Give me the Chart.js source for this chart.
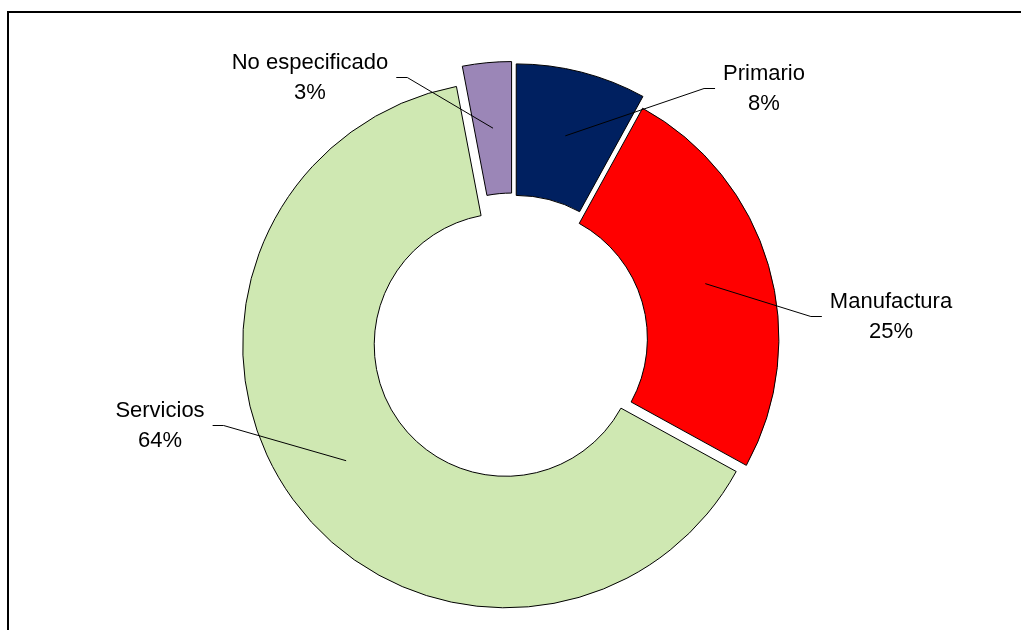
<!DOCTYPE html>
<html>
<head>
<meta charset="utf-8">
<script src="https://cdn.jsdelivr.net/npm/chart.js@4.4.1/dist/chart.umd.min.js"></script>
<style>
  html, body { margin: 0; padding: 0; background: #fff; overflow: hidden; }
  #wrap { position: relative; width: 1021px; height: 630px; }
  #frame { position: absolute; left: 7px; top: 11px; width: 1100px; height: 700px; border: 2px solid #000; }
  #sectorChart { position: absolute; left: 0; top: 0; }
</style>
</head>
<body>
<div id="wrap">
  <div id="frame"></div>
  <canvas id="sectorChart" width="1021" height="630"></canvas>
</div>
<script>
// Data
const sectors = ['Primario', 'Manufactura', 'Servicios', 'No especificado'];
const shares = [8, 25, 64, 3];
const sectorColors = ['#002060', '#FF0000', '#CFE8B2', '#9B86B7'];

// 1. Exploded slices: every arc is drawn by the library, just shifted out along its mid angle
const explodePlugin = {
    id: 'explode',
    beforeDatasetDraw(chart, args, opts) {
        const ctx = chart.ctx;
        args.meta.data.forEach((arc, i) => {
            const mid = (arc.startAngle + arc.endAngle) / 2;
            const d = opts.offsets[i] || 0;
            ctx.save();
            ctx.translate(Math.cos(mid) * d, Math.sin(mid) * d);
            arc.draw(ctx);
            ctx.restore();
        });
        return false;
    }
};

// 2. Category + percent labels with leader lines (Excel style)
const leaderLabels = {
    id: 'leaderLabels',
    afterDatasetsDraw(chart, args, opts) {
        const ctx = chart.ctx;
        const meta = chart.getDatasetMeta(0);
        const total = shares.reduce((a, b) => a + b, 0);
        const offsets = chart.options.plugins.explode.offsets;

        ctx.save();
        ctx.font = opts.font;
        ctx.fillStyle = '#000';
        ctx.strokeStyle = '#000';
        ctx.lineWidth = 1;
        ctx.textAlign = 'center';
        ctx.textBaseline = 'middle';

        meta.data.forEach((arc, i) => {
            const mid = (arc.startAngle + arc.endAngle) / 2;
            const r = offsets[i] + (arc.innerRadius + arc.outerRadius) / 2;
            const ax = arc.x + Math.cos(mid) * r;
            const ay = arc.y + Math.sin(mid) * r;

            const lines = [sectors[i], Math.round(shares[i] / total * 100) + '%'];
            const w = Math.max(...lines.map(t => ctx.measureText(t).width));
            const lx = arc.x + opts.positions[i][0];
            const ly = arc.y + opts.positions[i][1];

            const onRight = lx > ax;
            const near = onRight ? lx - w / 2 - 8 : lx + w / 2 + 8;
            const far = onRight ? near - 11 : near + 11;

            ctx.beginPath();
            ctx.moveTo(ax, ay);
            ctx.lineTo(far, ly);
            ctx.lineTo(near, ly);
            ctx.stroke();

            ctx.fillText(lines[0], lx, ly - opts.lineHeight / 2);
            ctx.fillText(lines[1], lx, ly + opts.lineHeight / 2);
        });
        ctx.restore();
    }
};

const ctx = document.getElementById('sectorChart').getContext('2d');
new Chart(ctx, {
    type: 'doughnut',
    data: {
        labels: sectors,
        datasets: [{
            data: shares,
            backgroundColor: sectorColors,
            borderColor: '#000',
            borderWidth: 1
        }]
    },
    options: {
        responsive: false,
        animation: false,
        radius: 263,
        cutout: '50%',
        layout: { padding: { left: 5, right: 0, top: 49, bottom: 0 } },
        plugins: {
            legend: { display: false },
            tooltip: { enabled: false },
            explode: { offsets: [13, 3, 9, 15] },
            leaderLabels: {
                font: '22px "Liberation Sans", Arial, sans-serif',
                lineHeight: 30,
                positions: [[251, -251], [378, -23], [-353, 86], [-203, -262]]
            }
        }
    },
    plugins: [explodePlugin, leaderLabels]
});
</script>
</body>
</html>
